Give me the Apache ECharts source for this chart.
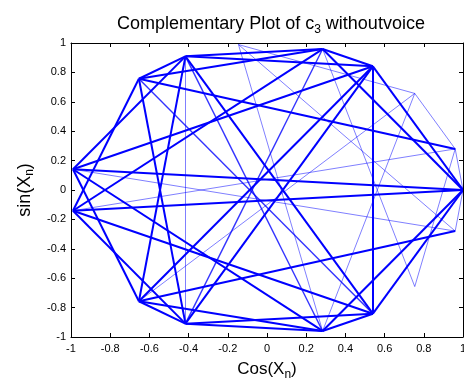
<!DOCTYPE html>
<html>
<head>
<meta charset="utf-8">
<script src="https://cdn.jsdelivr.net/npm/echarts@6/dist/echarts.min.js"></script>
<style>
  html, body { margin: 0; padding: 0; background: #fff; }
  #chart { width: 464px; height: 381px; }
</style>
</head>
<body>
<div id="chart"></div>
<script>
// Transitions X_n -> X_n+1 of the sequence (phase values, radians)
// and how often each transition occurs.
const phaseFrom = [ 2, -2,  2, -2, -4,  4,  2, -2,  2, -2, -4,  4,  2, -2,  3, -3,  3, -3,  3, -3, -4,  4,  1, -1,  1, -1,  1, -5,  5,  1, -1,  4, -4,  2, -2,  2,  3, -3,  5,  7,  7, -5, -7,  7, -6,  6,  5,  8];
const phaseTo   = [-5,  5,  1, -1, -5,  5, -4,  4,  3, -3, -3,  3,  4, -4,  0,  0,  1, -1,  5, -5, -6,  6, -5,  5,  0,  0, -1,  0,  0, -2,  2,  1, -1,  5, -5, -2,  6, -6,  8,  8,  4, -7, -6, -6,  0,  0,  7,  6];
const passes    = [ 3,  3,  3,  3,  3,  3,  3,  3,  3,  3,  3,  3,  3,  3,  3,  3,  3,  3,  3,  3,  3,  3,  3,  3,  3,  3,  3,  3,  3,  3,  3,  3,  2,  2,  2,  1,  1,  1,  1,  1,  1,  1,  1,  1,  1,  1,  1,  1];

const BLUE = '#0000ff';

function segmentStyle(n) {
  if (n >= 3) return { color: BLUE, width: 2, opacity: 1 };
  if (n === 2) return { color: BLUE, width: 1.4, opacity: 0.8 };
  return { color: BLUE, width: 1, opacity: 0.5 };
}

const segments = phaseFrom.map((a, i) => {
  const b = phaseTo[i];
  return {
    coords: [[Math.cos(a), Math.sin(a)], [Math.cos(b), Math.sin(b)]],
    lineStyle: segmentStyle(passes[i])
  };
});

const fmt = v => String(+(+v).toFixed(1));
const FONT = 'Liberation Sans, Arial, Helvetica, sans-serif';

const chart = echarts.init(document.getElementById('chart'), null, { renderer: 'canvas' });

const baseAxis = {
  type: 'value',
  min: -1, max: 1, interval: 0.2,
  axisLine: { show: true, onZero: false, lineStyle: { color: '#000', width: 1 } },
  axisTick: { show: true, inside: true, length: 4, lineStyle: { color: '#000' } },
  splitLine: { show: false }
};

const subRich = size => ({ sub: { fontFamily: FONT, fontSize: size, color: '#000', padding: [Math.round(size * 0.9), 0, 0, 0] } });

chart.setOption({
  animation: false,
  backgroundColor: '#fff',
  title: {
    text: 'Complementary Plot of c{sub|3} withoutvoice',
    left: 266, top: 8, textAlign: 'center',
    textStyle: {
      fontFamily: FONT, fontSize: 18, fontWeight: 'normal', color: '#000',
      rich: subRich(12)
    }
  },
  grid: { left: 71, right: 1, top: 43, bottom: 44, containLabel: false, outerBoundsMode: 'none' },
  xAxis: [
    Object.assign({}, baseAxis, {
      position: 'bottom',
      axisLabel: { show: true, color: '#000', fontFamily: FONT, fontSize: 11, margin: 6, formatter: fmt },
      name: 'Cos(X{sub|n})', nameLocation: 'middle', nameGap: 21,
      nameTextStyle: { fontFamily: FONT, fontSize: 17, color: '#000', rich: subRich(12) }
    }),
    Object.assign({}, baseAxis, { position: 'top', axisLabel: { show: false } })
  ],
  yAxis: [
    Object.assign({}, baseAxis, {
      position: 'left',
      axisLabel: { show: true, color: '#000', fontFamily: FONT, fontSize: 11, margin: 5, formatter: fmt },
      name: 'sin(X{sub|n})', nameLocation: 'middle', nameGap: 30, nameRotate: 90,
      nameTextStyle: { fontFamily: FONT, fontSize: 18, color: '#000', rich: subRich(12) }
    }),
    Object.assign({}, baseAxis, { position: 'right', axisLabel: { show: false } })
  ],
  series: [{
    type: 'lines',
    coordinateSystem: 'cartesian2d',
    xAxisIndex: 0, yAxisIndex: 0,
    polyline: false,
    silent: true,
    data: segments
  }]
});
</script>
</body>
</html>
